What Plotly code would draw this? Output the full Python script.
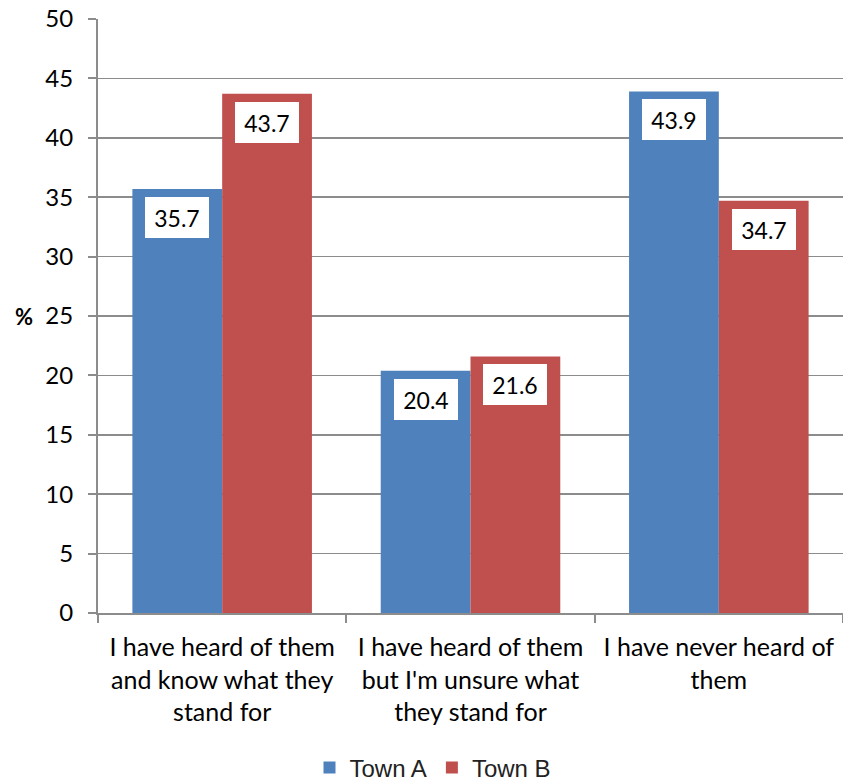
import plotly.graph_objects as go

categories = ["I have heard of them<br>and know what they<br>stand for",
              "I have heard of them<br>but I'm unsure what<br>they stand for",
              "I have never heard of<br>them"]
town_a = [35.7, 20.4, 43.9]
town_b = [43.7, 21.6, 34.7]
series_names = ["Town A", "Town B"]
colors = ["#4F81BD", "#C0504D"]
y_ticks = list(range(0, 51, 5))

W, H = 843, 782
ML, MR, MT, MB = 98, 0, 19, 169
PW = W - ML - MR
PH = H - MT - MB
bargap = 0.277
cat_px = PW / len(categories)
bar_px = (1 - bargap) / 2 * cat_px

FONT = "Lato, 'Open Sans', sans-serif"

fig = go.Figure()
for name, vals, col in zip(series_names, [town_a, town_b], colors):
    fig.add_trace(go.Bar(name=name, x=categories, y=vals, marker=dict(color=col, line=dict(width=0))))

annotations = []
for si, vals in enumerate([town_a, town_b]):
    shift = (-0.5 if si == 0 else 0.5) * bar_px
    for c, v in zip(categories, vals):
        annotations.append(dict(
            x=c, y=v, xref="x", yref="y", text=f"{v:.1f}", showarrow=False,
            xshift=shift, yshift=-8, yanchor="top", xanchor="center",
            bgcolor="white", width=64, height=41, borderpad=0, borderwidth=0,
            font=dict(family=FONT, size=23, color="black")))
annotations.append(dict(xref="x domain", x=-(98 - 24) / PW, y=25, yref="y",
                        text="<b>%</b>", showarrow=False, xanchor="center",
                        font=dict(family=FONT, size=22, color="black")))

fig.update_layout(
    width=W, height=H,
    margin=dict(l=ML, r=MR, t=MT, b=MB, pad=0, autoexpand=False),
    paper_bgcolor="white", plot_bgcolor="white",
    barmode="group", bargap=bargap, bargroupgap=0,
    font=dict(family=FONT, size=25, color="black"),
    showlegend=True,
    legend=dict(orientation="h", xref="paper", x=(433 - 98) / PW, xanchor="center",
                yref="paper", y=(613 - 768) / PH, yanchor="middle",
                font=dict(family="'Liberation Sans', Arial, sans-serif", size=24, color="#222"),
                itemwidth=30, tracegroupgap=0),
    annotations=annotations,
)
fig.update_xaxes(showgrid=False, showline=True, linecolor="#8c8c8c", linewidth=2, automargin=False,
                 ticks="outside", tickson="boundaries", ticklen=8, tickcolor="#8c8c8c", tickwidth=2,
                 ticklabelstandoff=11, ticklabeloverflow="allow",
                 tickfont=dict(family=FONT, size=25, color="black"))
fig.update_yaxes(range=[0, 50], tickvals=y_ticks, showgrid=True, gridcolor="#8c8c8c", gridwidth=1.5,
                 showline=True, linecolor="#8c8c8c", linewidth=2, zeroline=False, automargin=False,
                 ticks="outside", ticklen=8, tickcolor="#8c8c8c", tickwidth=2,
                 ticklabelstandoff=10, ticklabeloverflow="allow",
                 tickfont=dict(family=FONT, size=24, color="black"))

fig.write_html("out.html", config={"displayModeBar": False, "staticPlot": True},
               post_script="document.body.style.margin='0';document.body.style.padding='0';")
